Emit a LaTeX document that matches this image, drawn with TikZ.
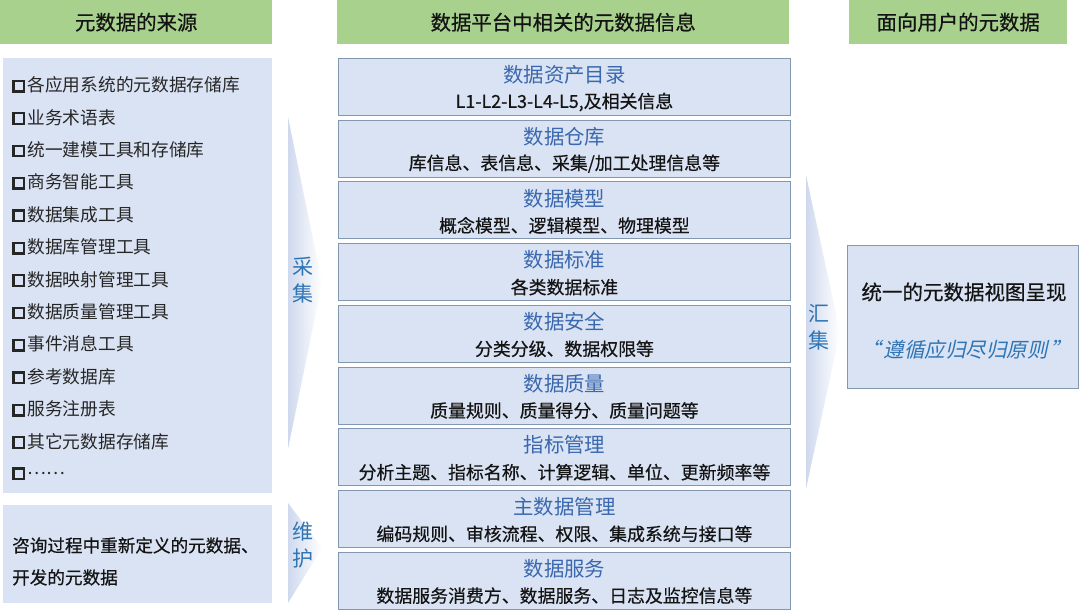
\documentclass[tikz,border=0pt]{standalone}
\usepackage{fontspec}
\usetikzlibrary{calc}
\setmainfont{Noto Sans CJK SC}
\newfontfamily\slfont[FakeSlant=0.22]{Noto Sans CJK SC}
\newfontfamily\semib[FakeBold=0.5]{Noto Sans CJK SC}
\definecolor{hdr}{HTML}{A9D18E}
\definecolor{pale}{HTML}{DAE3F3}
\definecolor{bord}{HTML}{8497B0}
\definecolor{ttl}{HTML}{3A68AE}
\definecolor{lbl}{HTML}{2E75B6}
\definecolor{txt}{HTML}{141414}
\definecolor{listtxt}{HTML}{262626}
\definecolor{chev}{HTML}{CFD9EE}
\newcommand\chkbox{\raisebox{1.5pt}{\setlength\fboxrule{2.3pt}\setlength\fboxsep{0pt}\fbox{\rule{0pt}{8.2pt}\hspace{8.2pt}}}\hspace{2.5pt}}
\begin{document}
\begin{tikzpicture}[x=1pt,y=-1pt,
  hdrbox/.style={fill=hdr,draw=none,anchor=north west,inner sep=0pt,text=txt,font=\fontsize{20.4}{22}\selectfont\semib},
  palebox/.style={fill=pale,draw=none,anchor=north west,inner sep=0pt},
  midbox/.style={fill=pale,draw=bord,line width=0.9pt,anchor=north west,inner sep=0pt,minimum width=452pt,minimum height=57pt},
  ttltxt/.style={text=ttl,font=\fontsize{20.4}{22}\selectfont,inner sep=0pt},
  subtxt/.style={text=txt,font=\fontsize{17.9}{20}\selectfont\semib,inner sep=0pt},
  item/.style={anchor=west,text=listtxt,font=\fontsize{17.7}{20}\selectfont,inner sep=0pt},
  lbltxt/.style={text=lbl,font=\fontsize{21}{27}\selectfont,align=center,inner sep=0pt},
]
\useasboundingbox (0,0) rectangle (1080,613);
\fill[white] (0,0) rectangle (1080,613);

% headers
\node[hdrbox,minimum width=272pt,minimum height=44pt] (h1) at (0,0) {元数据的来源};
\node[hdrbox,minimum width=452pt,minimum height=44pt] (h2) at (337,0) {数据平台中相关的元数据信息};
\node[hdrbox,minimum width=218pt,minimum height=44pt] (h3) at (849,0) {面向用户的元数据};

% chevrons
\shade[left color=chev,right color=white] (288,117) -- (322,283) -- (288,449) -- cycle;
\shade[left color=chev,right color=white] (288,503) -- (322,548) -- (288,603) -- cycle;
\shade[left color=chev,right color=white] (806,175) -- (840,332) -- (806,489) -- cycle;
\node[lbltxt] (cj) at (303,280) {采\\集};
\node[lbltxt] (wh) at (303,545) {维\\护};
\node[lbltxt] (hj) at (819,327) {汇\\集};

% left boxes
\node[palebox,minimum width=269pt,minimum height=435pt] (lb) at (3,58) {};
\node[palebox,minimum width=269pt,minimum height=98pt] (lb2) at (3,505) {};
\foreach \t [count=\i] in {各应用系统的元数据存储库,业务术语表,统一建模工具和存储库,商务智能工具,数据集成工具,数据库管理工具,数据映射管理工具,数据质量管理工具,事件消息工具,参考数据库,服务注册表,其它元数据存储库}{
  \node[item] (l\i) at (12,{85+32.4*(\i-1)}) {\chkbox\t};
}
\node[item] (l13) at (12,{85+32.4*12}) {\chkbox\raisebox{5pt}{……}};
\node[item,anchor=north west,align=left,font=\fontsize{17.6}{32}\selectfont\semib,text=txt] (lt) at (12,537) {咨询过程中重新定义的元数据、\\开发的元数据};

% middle boxes
\foreach \a/\b [count=\i] in {
  数据资产目录/{L1-L2-L3-L4-L5,及相关信息},
  数据仓库/{库信息、表信息、采集/加工处理信息等},
  数据模型/{概念模型、逻辑模型、物理模型},
  数据标准/{各类数据标准},
  数据安全/{分类分级、数据权限等},
  数据质量/{质量规则、质量得分、质量问题等},
  指标管理/{分析主题、指标名称、计算逻辑、单位、更新频率等},
  主数据管理/{编码规则、审核流程、权限、集成系统与接口等},
  数据服务/{数据服务消费方、数据服务、日志及监控信息等}}{
  \pgfmathsetmacro\ytop{58+61.7*(\i-1)}
  \node[midbox] (m\i) at (338,\ytop) {};
  \node[ttltxt] (mt\i) at ($(m\i.north)+(0,17)$) {\a};
  \node[subtxt] (ms\i) at ($(m\i.north)+(0,44)$) {\b};
}

% right box
\node[fill=pale,draw=bord,line width=0.9pt,anchor=north west,inner sep=0pt,minimum width=231pt,minimum height=143pt] (rb) at (847,245) {};
\node[text=txt,font=\fontsize{20.5}{22}\selectfont\semib,inner sep=0pt] (rt) at (964,292) {统一的元数据视图呈现};
\node[text=lbl,font=\fontsize{20.5}{22}\selectfont\slfont,inner sep=0pt] (rq) at (966,350) {“\hspace{3pt}遵循应归尽归原则\hspace{3pt}”};
\end{tikzpicture}
\end{document}
